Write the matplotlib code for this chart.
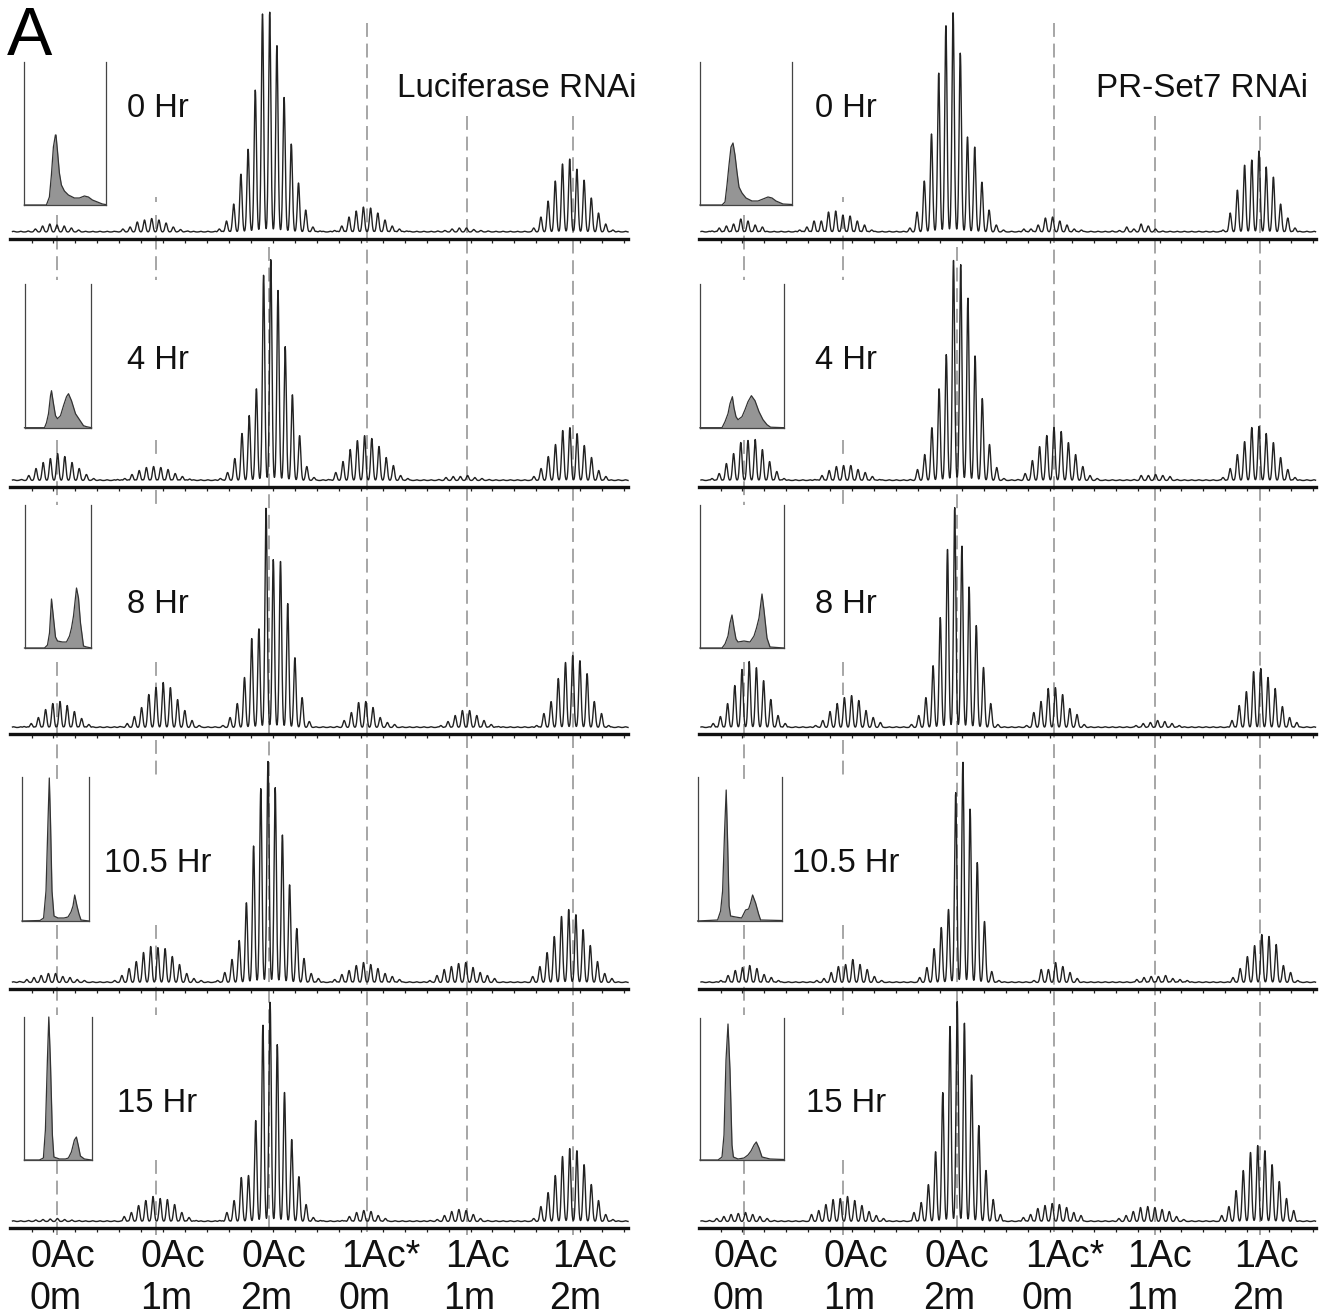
import numpy as np
import matplotlib
matplotlib.use("Agg")
import matplotlib.pyplot as plt

plt.rcParams['font.family'] = ['Liberation Sans', 'DejaVu Sans']

# ---- data: peak heights (intensity units) and first peak position per envelope
TIMES = ['0 Hr', '4 Hr', '8 Hr', '10.5 Hr', '15 Hr']
SPECIES_TOP = ['0Ac', '0Ac', '0Ac', '1Ac*', '1Ac', '1Ac']
SPECIES_BOTTOM = ['0m', '1m', '2m', '0m', '1m', '2m']

LUC_STARTS = [
    [28.2, 115.7, 219.3, 334.6, 437.7, 533.7],
    [21.6, 117.6, 220.4, 328.6, 438.8, 533.9],
    [24.0, 120.0, 222.9, 337.0, 440.8, 536.7],
    [19.6, 114.7, 217.6, 334.7, 429.8, 532.7],
    [28.6, 124.2, 219.7, 342.2, 430.1, 533.7],
]
LUC_0H = [[1, 3, 6, 8, 7, 6, 4, 2],
          [0.5, 3, 5, 10, 12, 13.5, 12, 9, 5, 2.5, 1],
          [3, 11, 28, 58, 83, 142, 218, 220, 187, 135, 88, 49, 22, 5, 1],
          [1.5, 6, 15, 21, 25, 24, 19, 12, 6, 3, 1],
          [1, 1.5, 3, 4, 4, 2.5, 1.5, 1],
          [4, 15, 31, 51, 68, 73, 63, 52, 34, 19, 8, 2]]
LUC_4H = [[1, 5, 12, 18, 22, 27, 24, 18, 12, 6, 2],
          [1, 2, 6, 10, 13, 14, 13, 11, 7, 4, 1.5],
          [2, 8, 22, 47, 65, 92, 206, 221, 190, 134, 86, 45, 14, 3],
          [1, 8, 19, 31, 40, 45, 42, 34, 23, 15, 5, 2],
          [1, 3, 4, 4, 5, 3, 2, 1],
          [4, 12, 24, 36, 50, 53, 47, 35, 23, 10, 4]]
LUC_8H = [[1, 4, 10, 18, 24, 26, 22, 16, 9, 3],
          [1, 4, 11, 20, 33, 40, 45, 40, 28, 17, 7, 2],
          [2, 10, 24, 50, 89, 99, 220, 168, 166, 124, 70, 30, 6],
          [1, 7, 15, 25, 26, 20, 10, 5, 3],
          [2, 6, 12, 17, 17, 12, 7, 3, 1],
          [2, 14, 26, 49, 65, 72, 67, 54, 26, 14, 2]]
LUC_10H = [[1, 3, 5, 7, 9, 9, 6, 5, 3, 2],
           [2, 7, 14, 21, 30, 36, 35, 34, 26, 18, 9, 4, 2],
           [2, 10, 23, 42, 80, 137, 194, 221, 195, 148, 98, 54, 24, 9, 4],
           [3, 8, 12, 17, 20, 18, 14, 9, 6, 3],
           [2, 7, 13, 16, 19, 20, 15, 10, 7, 4],
           [6, 16, 30, 46, 66, 73, 68, 53, 37, 21, 9, 4]]
LUC_15H = [[1, 1.5, 2, 2.5, 3, 2, 1.5, 1],
           [5, 9, 16, 21, 25, 23, 22, 17, 9, 4, 1],
           [1, 9, 21, 44, 46, 101, 197, 220, 177, 129, 82, 45, 17, 4, 1],
           [1, 5, 9, 11, 10, 6, 3],
           [1, 2, 6, 10, 12, 11, 7, 3, 1],
           [3, 15, 29, 46, 65, 73, 71, 57, 37, 21, 7, 2]]

PR_STARTS = [
    [712.0, 799.7, 909.9, 1023.8, 1112.3, 1223.0],
    [712.0, 814.8, 910.3, 1018.0, 1134.0, 1223.0],
    [713.2, 815.6, 911.5, 1026.6, 1136.0, 1232.0],
    [720.9, 816.8, 919.7, 1034.0, 1136.8, 1233.0],
    [709.5, 811.5, 914.0, 1023.4, 1118.9, 1221.7],
]
PR_0H = [[1, 4, 6, 8, 13, 11, 7, 5],
         [2, 5, 11, 11, 20, 21, 17, 16, 11, 7, 2],
         [4, 20, 51, 98, 159, 207, 220, 179, 95, 85, 50, 22, 7, 2],
         [3, 3, 7, 14, 15, 11, 7, 3, 2],
         [1, 1.5, 5, 3, 8, 6, 3, 1],
         [2, 19, 42, 67, 72, 81, 65, 55, 28, 14, 4]]
PR_4H = [[2, 7, 17, 27, 38, 40, 41, 31, 19, 9, 2],
         [1, 5, 10, 14, 15, 15, 11, 8, 4, 1],
         [1, 11, 26, 53, 92, 126, 220, 216, 183, 125, 82, 36, 13, 2],
         [1, 7, 20, 34, 45, 53, 49, 38, 26, 14, 5, 2],
         [1, 5, 5, 6, 5, 4, 1],
         [3, 12, 26, 39, 53, 54, 47, 38, 23, 11, 3]]
PR_8H = [[4, 11, 24, 42, 58, 66, 60, 47, 28, 12, 4],
         [2, 7, 16, 24, 30, 32, 27, 17, 10, 5],
         [3, 12, 30, 62, 110, 178, 220, 182, 141, 102, 60, 24, 3],
         [2, 15, 26, 39, 40, 33, 19, 13, 3],
         [2, 4, 5, 7, 6, 4, 2],
         [7, 22, 36, 56, 59, 50, 39, 21, 10, 5]]
PR_10H = [[2, 7, 12, 15, 17, 14, 8, 5, 2],
          [2, 4, 10, 16, 18, 23, 18, 13, 6, 2],
          [5, 15, 34, 55, 73, 190, 221, 174, 120, 61, 11, 2],
          [2, 13, 13, 20, 16, 10, 4],
          [3, 5, 6, 6, 7, 4, 3, 2],
          [5, 14, 26, 37, 48, 46, 38, 17, 10, 2]]
PR_15H = [[1, 3, 5, 7, 8, 9, 7, 5, 3, 1],
          [7, 11, 17, 22, 23, 25, 21, 16, 10, 6, 3],
          [9, 19, 37, 70, 129, 195, 220, 199, 147, 96, 51, 22, 7],
          [4, 7, 13, 16, 18, 17, 14, 9, 6],
          [3, 6, 10, 14, 15, 14, 12, 10, 5, 2],
          [6, 15, 31, 51, 69, 76, 71, 57, 40, 23, 11]]

LUC_PEAKS = [LUC_0H, LUC_4H, LUC_8H, LUC_10H, LUC_15H]
PR_PEAKS = [PR_0H, PR_4H, PR_8H, PR_10H, PR_15H]

# flow-cytometry insets: channel and count
LUC_INSET_X = [
    [0, 22, 25, 27, 29, 31, 31.6, 33, 35, 37, 40, 44, 50, 55, 60, 64, 68, 73, 78, 81],
    [0, 20, 22, 24, 26, 27, 29, 31, 33, 36, 39, 42, 44, 47, 51, 55, 59, 62, 67],
    [0, 20, 23, 25, 27, 29, 31, 33, 38, 42, 45, 47, 49, 52, 54, 56, 59, 62, 67],
    [0, 18, 21.6, 24, 26, 27.3, 28.5, 30, 32, 36, 42, 46, 49, 51, 52.7, 55, 57, 59, 67],
    [0, 15, 19, 21, 23, 24.4, 26, 28, 29.5, 35, 41, 44, 47, 50, 52, 54, 56, 60, 67],
]
LUC_INSET_Y = [
    [0, 0, 8, 30, 58, 70, 70, 55, 32, 20, 14, 10, 7, 7, 9, 8, 5, 3, 1, 0.5],
    [0, 0, 5, 14, 32, 37, 24, 12, 9, 12, 22, 31, 34, 27, 14, 8, 2, 1, 0],
    [0, 0, 3, 15, 49, 30, 11, 7, 6, 6, 12, 20, 32, 60, 50, 25, 2, 1, 0],
    [0, 0.5, 3, 30, 100, 143, 100, 30, 5, 3, 3, 4, 9, 15, 26, 15, 7, 1, 0],
    [0, 0, 2, 30, 100, 143, 100, 25, 3, 1, 1, 2, 8, 20, 23, 14, 4, 1, 0],
]
PR_INSET_X = [
    [0, 22, 25, 27, 29, 31, 33, 35, 37, 39, 42, 46, 52, 58, 63, 68, 72, 76, 83, 92],
    [0, 22, 25, 28, 30, 32.4, 34, 36, 38, 42, 45, 48, 51.4, 55, 59, 63, 67, 70.6, 84],
    [0, 22, 25, 28, 30, 32, 34, 36, 38, 44, 50, 54, 56.5, 59, 62, 64, 67, 70, 84],
    [0, 20, 23, 25, 27, 28.6, 30, 31.5, 33, 38, 44, 48, 51, 53, 55, 58, 61, 63, 84],
    [0, 18, 22, 24, 26, 28, 30, 32, 33.4, 38, 44, 48, 51, 54, 56.3, 59, 62, 70, 84],
]
PR_INSET_Y = [
    [0, 0, 3, 20, 40, 58, 62, 50, 33, 18, 12, 7, 4, 4, 6, 8, 7, 4, 1, 0.5],
    [0, 0, 6, 14, 24, 31, 20, 11, 8, 11, 18, 26, 32, 27, 16, 8, 3, 0.5, 0],
    [0, 0, 4, 12, 25, 33, 20, 9, 6, 7, 6, 12, 20, 30, 54, 38, 10, 1, 0],
    [0, 1, 10, 30, 90, 131, 80, 15, 5, 4, 3, 11, 12, 18, 26, 18, 7, 1, 0.5],
    [0, 0, 3, 25, 100, 136, 90, 15, 3, 1, 2, 5, 9, 15, 18, 12, 3, 1, 0.5],
]

# vertical guide segments (top, bottom) for each species
LUC_GUIDE_X = [57, 156, 269, 366.6, 467, 573]
PR_GUIDE_X = [744, 843.4, 956.8, 1053.6, 1154.8, 1259.7]
GUIDE_SEGMENTS = [
    [(215, 280), (440, 505), (662, 780), (925, 1015), (1160, 1235)],
    [(197, 202), (215, 280), (440, 455), (490, 505), (662, 695), (740, 780), (925, 1015), (1160, 1235)],
    [(247, 1235)],
    [(23, 1235)],
    [(116, 1235)],
    [(116, 1235)],
]

# ---- layout (pixels of the 1325x1315 figure)
W, H = 1325, 1315
LINE_COL = '#222222'
AXIS_Y = [238.5, 487, 734, 989, 1228]
BASE_OFFSET = 6.5
PANEL_H = 230
SPACING = 7.2
SIGMA = 1.15
RIPPLE = 0.7

LUC_BOX = [(24.4, 106, 62, 205), (24.5, 91.4, 284, 427.7), (24.5, 91.4, 505, 648),
           (22, 89.4, 777, 921), (24.4, 91.8, 1017, 1160)]
PR_BOX = [(700, 792, 62, 205), (700, 784, 284, 427.7), (700, 784, 505, 648),
          (697.6, 781.7, 777, 921), (700, 784, 1018, 1160)]

fig = plt.figure(figsize=(W / 100, H / 100), dpi=100, facecolor='white')


def add_axes_px(x0, x1, y_top, y_bottom, **kw):
    return fig.add_axes([x0 / W, 1 - y_bottom / H, (x1 - x0) / W, (y_bottom - y_top) / H], **kw)


# overlay in pixel coordinates for guides and labels
bg = add_axes_px(0, W, 0, H, zorder=0)
bg.set_xlim(0, W)
bg.set_ylim(H, 0)
bg.axis('off')

for xs in (LUC_GUIDE_X, PR_GUIDE_X):
    for x, segs in zip(xs, GUIDE_SEGMENTS):
        for top, bottom in segs:
            bg.plot([x, x], [top, bottom], color='#939393', lw=1.15,
                    linestyle=(0, (8.7, 4.2)), solid_capstyle='butt')


def draw_panel(x0, x1, axis_y, starts, clusters, tick_start):
    ax = add_axes_px(x0, x1, axis_y - PANEL_H, axis_y, zorder=2)
    ax.patch.set_alpha(0)
    grid = np.arange(x0 + 2, x1 + 0.1, 0.25)
    y = np.zeros_like(grid)
    for pos in np.arange(x0 + 3, x1, SPACING):
        y += RIPPLE * np.exp(-0.5 * ((grid - pos) / SIGMA) ** 2)
    for start, heights in zip(starts, clusters):
        env = np.zeros_like(grid)
        for i, h in enumerate(heights):
            env += h * np.exp(-0.5 * ((grid - (start + i * SPACING)) / SIGMA) ** 2)
        y = np.maximum(y, env)
    ax.plot(grid, y, color=LINE_COL, lw=1.0, solid_joinstyle='round', clip_on=False)
    ax.set_xlim(x0, x1)
    ax.set_ylim(-BASE_OFFSET, PANEL_H - BASE_OFFSET)
    for s in ('top', 'left', 'right'):
        ax.spines[s].set_visible(False)
    ax.spines['bottom'].set_linewidth(2.4)
    ax.spines['bottom'].set_color('#111111')
    ax.set_yticks([])
    ax.set_xticks(np.arange(tick_start, x1 + 0.5, 21.95))
    ax.set_xticklabels([])
    ax.tick_params(axis='x', length=3, width=0.9, color='#222222', direction='out')


def draw_inset(box, xs, ys):
    x0, x1, top, bottom = box
    ax = add_axes_px(x0, x1, top, bottom, zorder=3)
    ax.patch.set_alpha(0)
    ax.fill_between(xs, ys, 0, color='#959595', lw=0)
    ax.plot(xs, ys, color='#333333', lw=0.9, clip_on=False)
    ax.set_xlim(0, x1 - x0)
    ax.set_ylim(0, bottom - top)
    ax.spines['top'].set_visible(False)
    for s in ('left', 'right', 'bottom'):
        ax.spines[s].set_linewidth(0.9)
        ax.spines[s].set_color('#444444')
    ax.set_xticks([])
    ax.set_yticks([])


for r in range(5):
    draw_panel(10.5, 628, AXIS_Y[r], LUC_STARTS[r], LUC_PEAKS[r], 31.5)
    draw_panel(699, 1315.6, AXIS_Y[r], PR_STARTS[r], PR_PEAKS[r], 720.5)
    draw_inset(LUC_BOX[r], LUC_INSET_X[r], LUC_INSET_Y[r])
    draw_inset(PR_BOX[r], PR_INSET_X[r], PR_INSET_Y[r])

# labels
TIME_Y = [108, 360, 604, 863, 1104]
for label, y in zip(TIMES, TIME_Y):
    bg.text(157.5, y, label, fontsize=23.6, ha='center', va='center', color='#111111')
    bg.text(846, y, label, fontsize=23.6, ha='center', va='center', color='#111111')

bg.text(397, 88, 'Luciferase RNAi', fontsize=23.9, ha='left', va='center', color='#111111')
bg.text(1308, 88, 'PR-Set7 RNAi', fontsize=23.9, ha='right', va='center', color='#111111')
bg.text(7, 37, 'A', fontsize=49, ha='left', va='center', color='#000000')

LUC_TOP_X = [63, 172.6, 273.6, 381, 477, 584]
LUC_BOTTOM_X = [56, 166, 266, 365, 469, 575]
PR_TOP_X = [746, 855.6, 956.4, 1064.6, 1159.7, 1266.6]
PR_BOTTOM_X = [739, 849.5, 949.5, 1048, 1152, 1258.5]
for tops, bottoms in ((LUC_TOP_X, LUC_BOTTOM_X), (PR_TOP_X, PR_BOTTOM_X)):
    for i in range(6):
        bg.text(tops[i], 1257, SPECIES_TOP[i], fontsize=27, ha='center', va='center', color='#111111')
        bg.text(bottoms[i], 1299, SPECIES_BOTTOM[i], fontsize=27, ha='center', va='center', color='#111111')

fig.savefig('out.png', dpi=100)
